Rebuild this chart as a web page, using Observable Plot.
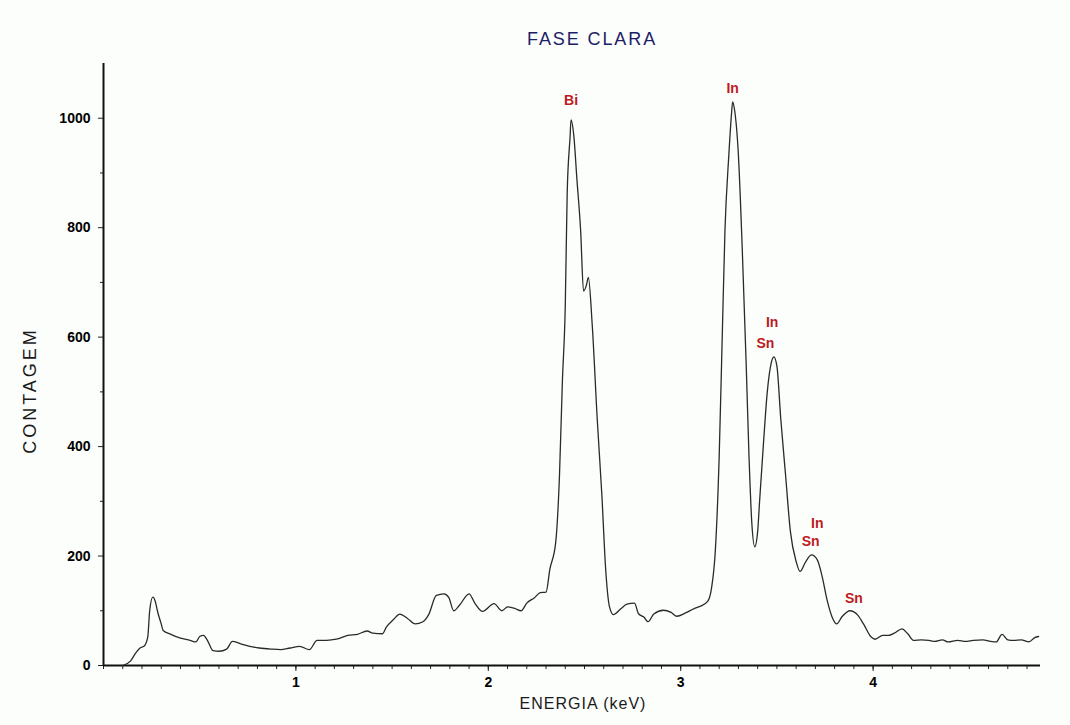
<!DOCTYPE html>
<html><head><meta charset="utf-8">
<script src="https://cdn.jsdelivr.net/npm/d3@7"></script>
<script src="https://cdn.jsdelivr.net/npm/@observablehq/plot@0.6"></script>
<style>
body{margin:0;background:#fcfefc;font-family:"Liberation Sans",Arial,sans-serif;}
#title{height:55px;position:relative;}
#title span{position:absolute;left:527px;top:30px;font-size:18px;line-height:18px;color:#1d2066;letter-spacing:1.9px;white-space:nowrap;}
#chart svg{display:block;}
</style></head><body>
<div id="title"><span>FASE CLARA</span></div>
<div id="chart"></div>
<script>
const energy = [0.10,0.14,0.17,0.19,0.21,0.23,0.24,0.256,0.27,0.28,0.30,0.31,0.35,0.40,0.45,0.48,0.50,0.52,0.54,0.57,0.60,0.64,0.67,0.71,0.76,0.81,0.87,0.92,0.97,1.02,1.07,1.11,1.16,1.21,1.27,1.32,1.37,1.40,1.45,1.47,1.51,1.54,1.58,1.62,1.66,1.69,1.73,1.77,1.795,1.82,1.85,1.90,1.93,1.97,2.03,2.07,2.10,2.14,2.17,2.20,2.24,2.27,2.30,2.32,2.35,2.37,2.385,2.40,2.41,2.425,2.43,2.445,2.46,2.48,2.495,2.51,2.52,2.54,2.566,2.59,2.61,2.63,2.65,2.69,2.72,2.76,2.78,2.81,2.83,2.86,2.91,2.95,2.98,3.025,3.07,3.10,3.14,3.16,3.18,3.20,3.215,3.23,3.25,3.264,3.27,3.28,3.30,3.32,3.34,3.355,3.37,3.385,3.40,3.41,3.43,3.45,3.47,3.484,3.50,3.52,3.545,3.57,3.60,3.62,3.65,3.68,3.71,3.735,3.76,3.79,3.81,3.84,3.88,3.92,3.95,3.99,4.01,4.05,4.08,4.11,4.15,4.18,4.21,4.25,4.29,4.32,4.36,4.39,4.44,4.48,4.52,4.57,4.61,4.64,4.67,4.70,4.73,4.77,4.81,4.84,4.86];
const counts = [0,8,24,32,35,52,100,125,116,100,76,64,57,50,46,43,53,55,46,27,26,30,44,40,35,32,30,29,32,35,29,46,46,48,55,57,63,59,58,70,85,94,86,76,80,93,128,131,124,100,110,131,114,99,113,100,107,104,100,114,124,133,134,176,224,348,519,657,863,966,997,966,891,794,684,695,709,623,451,313,176,107,93,104,112,114,95,88,80,94,101,97,90,96,104,108,117,141,210,382,589,795,932,1008,1030,1015,932,760,554,382,258,217,245,300,405,500,552,564,547,451,348,245,190,172,190,202,193,163,121,86,76,90,100,92,76,52,48,55,55,59,67,58,46,47,46,44,47,43,46,44,46,47,44,43,57,47,46,47,43,51,53];

const peakText = ["Bi","In","In","Sn","In","Sn","Sn"];
const peakX = [2.43,3.27,3.475,3.44,3.71,3.675,3.9];
const peakY = [1033,1055,627,589,260,227,122];

const xMajorTicks = [1,2,3,4];
const yMajorTicks = [0,200,400,600,800,1000];
const yMinorTicks = [100,300,500,700,900];
const xMinorTicks = d3.range(0, 4.85, 0.1);

const spectrum = energy.map((e,i)=>({e, c:counts[i]}));
const peaks = peakText.map((t,i)=>({t, x:peakX[i], y:peakY[i]}));

const chart = Plot.plot({
  width:1070, height:670,
  marginLeft:103, marginRight:30, marginTop:8, marginBottom:60,
  x:{domain:[0,4.87]},
  y:{domain:[0,1100]},
  style:{background:"transparent", fontFamily:"'Liberation Sans', Arial, sans-serif", color:"#000", overflow:"visible"},
  marks:[
    Plot.axisX({ticks:xMinorTicks, tickSize:4, tickFormat:()=>"", label:null, stroke:"#222"}),
    Plot.axisX({ticks:xMajorTicks, tickSize:6, tickPadding:6, tickFormat:d3.format("d"), label:null, fontSize:14, fontWeight:"bold", stroke:"#222"}),
    Plot.axisY({ticks:yMinorTicks, tickSize:3, tickFormat:()=>"", label:null, stroke:"#222"}),
    Plot.axisY({ticks:yMajorTicks, tickSize:5, tickPadding:8, tickFormat:d3.format("d"), label:null, fontSize:14, fontWeight:"bold", stroke:"#222"}),
    Plot.ruleY([0], {stroke:"#111", strokeWidth:2}),
    Plot.ruleX([0], {stroke:"#111", strokeWidth:2}),
    Plot.line(spectrum, {x:"e", y:"c", stroke:"#2a2a2a", strokeWidth:1.3, curve:"monotone-x"}),
    Plot.text(peaks, {x:"x", y:"y", text:"t", fill:"#bd1a22", fontWeight:"bold", fontSize:14}),
    Plot.text(["ENERGIA (keV)"], {frameAnchor:"bottom", dy:43, dx:11, fontSize:16, fill:"#1a1a1a"}),
    Plot.text(["CONTAGEM"], {frameAnchor:"left", textAnchor:"middle", rotate:-90, dx:-73, dy:26, fontSize:18, fill:"#1a1a1a"})
  ]
});
document.getElementById("chart").appendChild(chart);
d3.select(chart).selectAll("text").each(function(){
  const t = this.textContent;
  if (t === "ENERGIA (keV)") d3.select(this).attr("letter-spacing", "1px");
  if (t === "CONTAGEM") d3.select(this).attr("letter-spacing", "3px");
});
</script>
</body></html>
